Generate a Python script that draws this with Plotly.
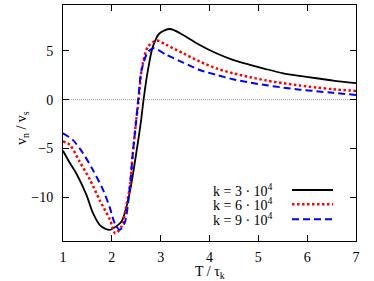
import plotly.graph_objects as go

# --- data ---
t_k3 = [1.0, 1.14, 1.27, 1.48, 1.61, 1.75, 1.87, 1.96, 2.09, 2.2, 2.3, 2.39, 2.5, 2.6,
        2.65, 2.74, 2.84, 2.98, 3.19, 3.46, 3.8, 4.14, 4.48, 4.83, 5.17, 5.51, 5.85,
        6.19, 6.53, 7.0]
v_k3 = [-5.25, -6.5, -7.55, -9.77, -11.6, -12.84, -13.25, -13.35, -13.0, -12.5, -11.0,
        -8.9, -5.5, -2.1, 0.0, 3.04, 5.43, 6.8, 7.24, 6.63, 5.6, 4.75, 4.07, 3.56, 3.11,
        2.7, 2.43, 2.19, 1.95, 1.68]

t_k6 = [1.0, 1.14, 1.34, 1.55, 1.75, 1.96, 2.07, 2.2, 2.28, 2.37, 2.43, 2.5, 2.55, 2.61,
        2.74, 2.92, 3.12, 3.46, 3.8, 4.14, 4.48, 4.83, 5.17, 5.51, 5.85, 6.19, 6.53, 7.0]
v_k6 = [-4.3, -4.64, -6.35, -8.2, -10.3, -12.3, -13.7, -13.0, -11.3, -8.9, -5.5, -2.1,
        0.0, 3.04, 5.43, 6.05, 5.6, 4.75, 3.9, 3.2, 2.7, 2.3, 1.95, 1.68, 1.44, 1.23,
        1.06, 0.89]

t_k9 = [1.0, 1.2, 1.41, 1.61, 1.82, 1.96, 2.06, 2.16, 2.26, 2.37, 2.43, 2.5, 2.54, 2.61,
        2.74, 2.86, 3.12, 3.46, 3.8, 4.14, 4.48, 4.83, 5.17, 5.51, 5.85, 6.19, 6.53, 7.0]
v_k9 = [-3.45, -4.13, -5.5, -7.2, -9.25, -11.1, -12.7, -13.35, -12.7, -8.9, -5.5, -2.1,
        0.0, 3.04, 4.9, 5.27, 4.58, 3.8, 3.04, 2.53, 2.09, 1.74, 1.47, 1.23, 1.02, 0.86,
        0.69, 0.48]

labels = ["k = 3 · 10<sup>4</sup>", "k = 6 · 10<sup>4</sup>", "k = 9 · 10<sup>4</sup>"]
x_ticks = [1, 2, 3, 4, 5, 6, 7]
y_ticks = [-10, -5, 0, 5]

series = [(t_k3, v_k3), (t_k6, v_k6), (t_k9, v_k9)]
styles = [dict(color="black", width=1.8, dash="solid"),
          dict(color="#ff0000", width=2.5, dash="2.5px,2.5px"),
          dict(color="#0000ff", width=2.0, dash="7px,4px")]

FONT = "Liberation Serif, Times New Roman, serif"

fig = go.Figure()
for (t, v), st, lab in zip(series, styles, labels):
    fig.add_trace(go.Scatter(x=t, y=v, mode="lines", name=lab,
                             line=dict(shape="spline", smoothing=0.8, **st),
                             showlegend=False))

# zero line (dotted gray)
fig.add_shape(type="line", xref="paper", yref="y", x0=0, x1=1, y0=0, y1=0,
              line=dict(color="#a0a0a0", width=1, dash="1px,1px"), layer="below")

# manual key: text right-aligned, sample line to the right
key_y = [0.216, 0.1555, 0.092]
for lab, st, yy in zip(labels, styles, key_y):
    fig.add_annotation(text=lab, xref="paper", yref="paper", x=0.7235, y=yy,
                       xanchor="right", yanchor="middle", showarrow=False,
                       font=dict(family=FONT, size=14, color="black"))
    fig.add_shape(type="line", xref="paper", yref="paper", x0=0.7816, x1=0.9215,
                  y0=yy, y1=yy, line=dict(**st))

# axis titles
fig.add_annotation(text="T / τ<sub>k</sub>", xref="paper", yref="paper", x=0.5, y=-0.132,
                   xanchor="center", yanchor="middle", showarrow=False,
                   font=dict(family=FONT, size=14, color="black"))
fig.add_annotation(text="v<sub>n</sub> / v<sub>s</sub>", xref="paper", yref="paper",
                   x=-0.1365, y=0.479, xanchor="center", yanchor="middle",
                   textangle=-90, showarrow=False,
                   font=dict(family=FONT, size=14, color="black"))

axis_common = dict(showline=True, linecolor="black", linewidth=1, mirror="ticks",
                   ticks="inside", ticklen=6, tickwidth=1, tickcolor="black",
                   showgrid=False, zeroline=False,
                   tickfont=dict(family=FONT, size=14, color="black"))

fig.update_xaxes(range=[1, 7], tickvals=x_ticks, ticklabelstandoff=3, **axis_common)
fig.update_yaxes(range=[-14.5, 9.7], tickvals=y_ticks, ticklabelstandoff=6, **axis_common)

fig.update_layout(width=374, height=281,
                  margin=dict(l=63, r=18, t=5, b=40),
                  paper_bgcolor="white", plot_bgcolor="white",
                  font=dict(family=FONT, size=14, color="black"))

fig.write_html("out.html", config={"displayModeBar": False},
               post_script="document.body.style.margin='0px';")
